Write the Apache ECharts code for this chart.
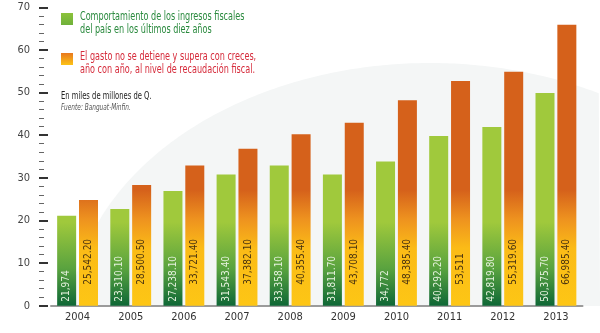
<!DOCTYPE html>
<html>
<head>
<meta charset="utf-8">
<script src="https://cdn.jsdelivr.net/npm/echarts@6/dist/echarts.min.js"></script>
<style>
html,body{margin:0;padding:0;background:#fff;}
#c{width:600px;height:333px;}
</style>
</head>
<body>
<div id="c"></div>
<script>
var years = ['2004','2005','2006','2007','2008','2009','2010','2011','2012','2013'];
var ingresos = [21.1, 22.7, 26.9, 30.8, 32.9, 30.8, 33.8, 39.8, 41.9, 49.9];
var gastos = [24.8, 28.3, 32.9, 36.8, 40.2, 42.9, 48.2, 52.7, 54.9, 65.9];
var ingresosLabels = ['21,974','23,310.10','27,238.10','31,543.40','33,358.10','31,811.70','34,772','40,292.20','42,819.80','50,375.70'];
var gastosLabels = ['25,542.20','28,500.50','33,721.40','37,382.10','40,355.40','43,708.10','48,385.40','53,511','55,319.60','66,985.40'];
var yTicks = [0,10,20,30,40,50,60,70];

var FONT = "'Liberation Sans Narrow','DejaVu Sans Condensed',sans-serif";

// background soft arc (decoration)
var arcPts = [];
(function(){
  var cx = 430, cy = 323, rx = 360, ry = 260, base = 306;
  var x0 = cx - rx * Math.sqrt(1 - Math.pow((cy - base) / ry, 2));
  for (var x = x0; x <= 600; x += 4) {
    var d = (x - cx) / rx;
    var y = cy - ry * Math.sqrt(Math.max(0, 1 - d * d));
    arcPts.push([x, Math.min(y, base)]);
  }
  arcPts.push([600, base]);
  arcPts.push([x0, base]);
})();

var chart = echarts.init(document.getElementById('c'));
var greenGrad = new echarts.graphic.LinearGradient(0, 306, 0, 222, [
  {offset: 0, color: '#0e6736'},
  {offset: 0.45, color: '#5aa33f'},
  {offset: 1, color: '#a0c93c'}
], true);
var orangeGrad = new echarts.graphic.LinearGradient(0, 306, 0, 190, [
  {offset: 0, color: '#fdc615'},
  {offset: 0.5, color: '#fbbb17'},
  {offset: 0.75, color: '#ee921f'},
  {offset: 1, color: '#d5611b'}
], true);

function txt(x, y, s, color, font, sx) {
  return {type: 'text', x: x, y: y, scaleX: sx, style: {text: s, fill: color, font: font, verticalAlign: 'middle'}};
}

chart.setOption({
  backgroundColor: '#ffffff',
  animation: false,
  grid: [
    {left: 51, right: 17.5, top: 7.3, bottom: 27.3},
    {left: 39, width: 2, top: 7.3, bottom: 27.3}
  ],
  xAxis: [
    {
      type: 'category',
      gridIndex: 0,
      data: years,
      axisLine: {lineStyle: {color: '#9b9b9b', width: 2}},
      axisTick: {show: false},
      axisLabel: {color: '#333', fontSize: 11, fontFamily: FONT, margin: 6}
    },
    {type: 'value', gridIndex: 1, show: false, min: 0, max: 1}
  ],
  yAxis: [
    {
      type: 'value', gridIndex: 0,
      min: yTicks[0], max: yTicks[yTicks.length - 1], interval: 10,
      axisLine: {show: false}, axisTick: {show: false}, axisLabel: {show: false},
      splitLine: {show: false}
    },
    {
      type: 'value', gridIndex: 1,
      min: yTicks[0], max: yTicks[yTicks.length - 1], interval: 10,
      axisLine: {show: false},
      axisTick: {show: true, inside: true, length: 9, lineStyle: {color: '#333', width: 2}},
      minorTick: {show: true, splitNumber: 5, length: 5, lineStyle: {color: '#666', width: 1}},
      splitLine: {show: false},
      axisLabel: {color: '#444', fontSize: 11, fontFamily: FONT, margin: 9}
    }
  ],
  series: [
    {
      name: 'Ingresos',
      type: 'bar',
      data: ingresos,
      barWidth: 19,
      barGap: '15%',
      itemStyle: {color: greenGrad},
      label: {
        show: true, position: 'insideBottom', distance: 4, rotate: 90,
        align: 'left', verticalAlign: 'middle',
        color: '#e6f2de', fontSize: 10, fontFamily: FONT,
        formatter: function(p){ return ingresosLabels[p.dataIndex]; }
      }
    },
    {
      name: 'Gastos',
      type: 'bar',
      data: gastos,
      barWidth: 19,
      itemStyle: {color: orangeGrad},
      label: {
        show: true, position: 'insideBottom', distance: 21, rotate: 90,
        align: 'left', verticalAlign: 'middle',
        color: '#4a3410', fontSize: 10, fontFamily: FONT,
        formatter: function(p){ return gastosLabels[p.dataIndex]; }
      }
    }
  ],
  graphic: [
    {type: 'polygon', z: -10, silent: true, shape: {points: arcPts}, style: {fill: '#f4f6f6'}},
    {type: 'rect', shape: {x: 61, y: 13, width: 12, height: 12},
     style: {fill: new echarts.graphic.LinearGradient(0, 0, 0, 1, [{offset: 0, color: '#8cc23b'}, {offset: 1, color: '#6fb13a'}])}},
    txt(80, 16.7, 'Comportamiento de los ingresos fiscales', '#2a8a3e', '12px ' + FONT, 0.75),
    txt(80, 29.5, 'del país en los últimos diez años', '#2a8a3e', '12px ' + FONT, 0.75),
    {type: 'rect', shape: {x: 61, y: 53, width: 12, height: 12},
     style: {fill: new echarts.graphic.LinearGradient(0, 0, 0, 1, [{offset: 0, color: '#e8781e'}, {offset: 1, color: '#fcc317'}])}},
    txt(80, 57, 'El gasto no se detiene y supera con creces,', '#d62b3b', '12px ' + FONT, 0.75),
    txt(80, 70, 'año con año, al nivel de recaudación fiscal.', '#d62b3b', '12px ' + FONT, 0.75),
    txt(61, 96, 'En miles de millones de Q.', '#222', '10.5px ' + FONT, 0.72),
    txt(61, 107.5, 'Fuente: Banguat-Minfin.', '#555', 'italic 9.5px ' + FONT, 0.68)
  ]
});
</script>
</body>
</html>
